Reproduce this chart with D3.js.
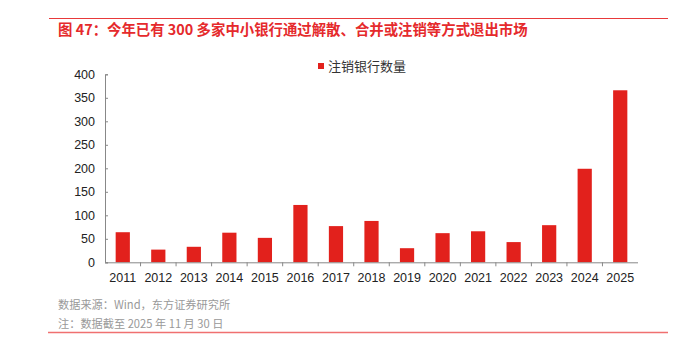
<!DOCTYPE html>
<html><head><meta charset="utf-8">
<script src="https://cdn.jsdelivr.net/npm/d3@7"></script>
<style>
body{margin:0;background:#fff;}
text{font-family:"Liberation Sans","Noto Sans CJK SC",sans-serif;}
.cjk{font-family:"Noto Sans CJK SC","Liberation Sans",sans-serif;}
</style></head>
<body>
<svg id="chart" width="684" height="347"></svg>
<script>
const categories = ["2011","2012","2013","2014","2015","2016","2017","2018","2019","2020","2021","2022","2023","2024","2025"];
const values = [64, 27, 33, 63, 52, 122, 77, 88, 30, 62, 66, 43, 79, 199, 366];
const yTicks = [0, 50, 100, 150, 200, 250, 300, 350, 400];
const seriesName = "注销银行数量";
const title = "图 47：今年已有 300 多家中小银行通过解散、合并或注销等方式退出市场";
const source = "数据来源：Wind，东方证券研究所";
const note = "注：数据截至 2025 年 11 月 30 日";

const svg = d3.select("#chart");
const plotL = 105, plotR = 638, plotT = 74.3, plotB = 262.3;
const red = "#e2211c";

// header line and title
svg.append("line").attr("x1",49).attr("x2",668).attr("y1",18.5).attr("y2",18.5)
  .attr("stroke","#e8393a").attr("stroke-width",1);
svg.append("text").attr("class","cjk").attr("x",58).attr("y",35)
  .attr("font-size",14.4).attr("font-weight","bold").attr("fill","#e52a2c").text(title);

const x = d3.scaleBand().domain(categories).range([plotL,plotR]).paddingInner(0.6).paddingOuter(0.3);
const y = d3.scaleLinear().domain([0,400]).range([plotB,plotT]);

// y axis
const yAxis = svg.append("g").attr("transform",`translate(${plotL},0)`)
  .call(d3.axisLeft(y).tickValues(yTicks).tickSize(-3).tickPadding(10));
yAxis.select(".domain").attr("stroke","#888");
yAxis.selectAll(".tick line").attr("stroke","#888");
yAxis.selectAll("text").attr("font-size",12.5).attr("fill","#222")
  .attr("font-family","Liberation Sans, Arial, sans-serif");

// bars
svg.append("g").selectAll("rect").data(values).join("rect")
  .attr("x",(d,i)=>x(categories[i]))
  .attr("y",d=>y(d))
  .attr("width",x.bandwidth())
  .attr("height",d=>y(0)-y(d))
  .attr("fill",red);

// x axis
const step = x.step();
svg.append("line").attr("x1",plotL).attr("x2",plotR).attr("y1",plotB+0.5).attr("y2",plotB+0.5)
  .attr("stroke","#888");
svg.append("g").selectAll("line").data(categories.slice(1)).join("line")
  .attr("x1",d=>x(d)+x.bandwidth()/2-step/2).attr("x2",d=>x(d)+x.bandwidth()/2-step/2)
  .attr("y1",plotB).attr("y2",plotB+4).attr("stroke","#888");
svg.append("g").selectAll("text").data(categories).join("text")
  .attr("x",d=>x(d)+x.bandwidth()/2).attr("y",281.5)
  .attr("text-anchor","middle").attr("font-size",12.5).attr("fill","#222")
  .text(d=>d);

// legend
svg.append("rect").attr("x",318).attr("y",63).attr("width",6).attr("height",6).attr("fill",red);
svg.append("text").attr("class","cjk").attr("x",328).attr("y",71).attr("font-size",13)
  .attr("fill","#333").text(seriesName);

// footer
svg.append("text").attr("class","cjk").attr("x",58).attr("y",309).attr("font-size",11.2)
  .attr("fill","#999").text(source);
svg.append("text").attr("class","cjk").attr("x",58).attr("y",328).attr("font-size",11.2)
  .attr("fill","#999").text(note);
svg.append("line").attr("x1",48).attr("x2",668).attr("y1",332.5).attr("y2",332.5)
  .attr("stroke","#f07070").attr("stroke-width",1.5);
</script>
</body></html>
